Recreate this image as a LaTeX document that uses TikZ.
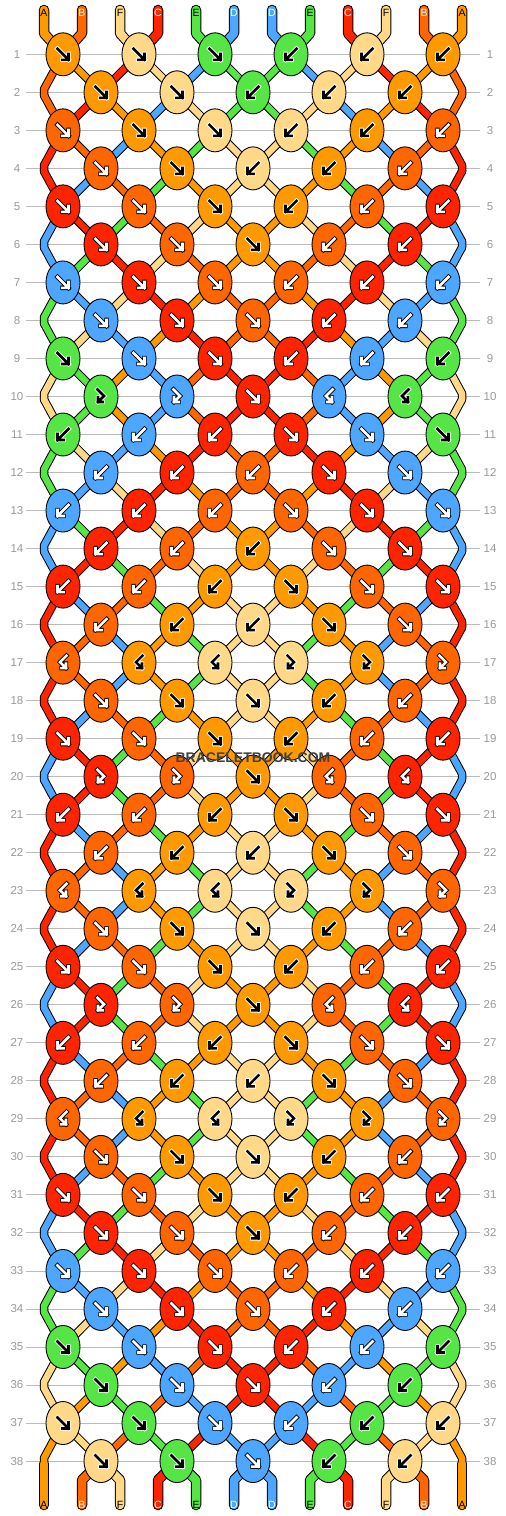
\documentclass[tikz,border=0pt]{standalone}
\usepackage{fontspec}
\setmainfont{Liberation Sans}
\usetikzlibrary{shapes.geometric}

\definecolor{thrA}{HTML}{FF9900}
\definecolor{thrB}{HTML}{FF6600}
\definecolor{thrC}{HTML}{FF2400}
\definecolor{thrD}{HTML}{4DA6FF}
\definecolor{thrE}{HTML}{55E645}
\definecolor{thrF}{HTML}{FFD988}
\colorlet{arrA}{black}\colorlet{rimA}{white}
\colorlet{arrB}{white}\colorlet{rimB}{black}
\colorlet{arrC}{white}\colorlet{rimC}{black}
\colorlet{arrD}{white}\colorlet{rimD}{black}
\colorlet{arrE}{black}\colorlet{rimE}{white}
\colorlet{arrF}{black}\colorlet{rimF}{white}
\definecolor{gridgray}{HTML}{BBBBBB}
\definecolor{lblgray}{HTML}{999999}

\tikzset{
  knot/.style={ellipse, draw=black, line width=0.9, minimum width=34, minimum height=43, inner sep=0},
  rowlbl/.style={text=lblgray, font=\fontsize{11.5}{13}\selectfont, inner sep=0},
  thrlbl/.style={font=\fontsize{10.5}{11}\selectfont, inner sep=0},
  glyph/.style={line cap=rect, line join=miter},
  yarn/.style={line cap=round, line join=round},
}

% thread colour at row #1, position #2
\newcommand{\setst}[3]{\expandafter\xdef\csname st#1-#2\endcsname{#3}}
\newcommand{\st}[2]{\csname st#1-#2\endcsname}
\def\mirf{b}\def\mirb{f}\def\mirx{y}\def\miry{x}

% x of position #2 in row #1
\newcommand{\getposx}[2]{\pgfmathsetmacro\posX{mod(#1,2)==1 ? 63+76*int((#2-1)/2) : ((#2==1) ? 44 : ((#2==12) ? 462 : 101+76*int((#2-2)/2)))}}

% arrow inside a knot: type, arrow colour, rim colour
\newcommand{\knotglyph}[3]{%
  \foreach \lw/\lc in {4.4/#3,2.6/#2}{%
    \if f#1\draw[glyph, line width=\lw, color=\lc] (-5.5,-5.5) -- (5.5,5.5) (5.5,-0.5) -- (5.5,5.5) -- (-0.5,5.5);\fi
    \if b#1\draw[glyph, line width=\lw, color=\lc] (5.5,-5.5) -- (-5.5,5.5) (-5.5,-0.5) -- (-5.5,5.5) -- (0.5,5.5);\fi
    \if x#1\draw[glyph, line width=\lw, color=\lc] (-3.5,-7) -- (3,-0.5) -- (-3,5.5) (-3,1) -- (-3,5.5) -- (1.5,5.5);\fi
    \if y#1\draw[glyph, line width=\lw, color=\lc] (3.5,-7) -- (-3,-0.5) -- (3,5.5) (3,1) -- (3,5.5) -- (-1.5,5.5);\fi
  }%
}

% threads: b = black border pass, c = colour pass
\newcommand{\yarnpass}[3]{%
  \foreach \ps in {1,...,12}{
    \if#1b\def\thc{black}\else\edef\thc{thr\st{0}{\ps}}\fi
    \draw[yarn, line width=#3, color=\thc] (t\ps) -- (u\ps) -- (p1-\ps);
    \if#1b\def\thc{black}\else\edef\thc{thr\st{38}{\ps}}\fi
    \draw[yarn, line width=#3, color=\thc] (q38-\ps) -- (v\ps) -- (w\ps);
  }
  \foreach \rw in {1,...,37}{
    \pgfmathtruncatemacro\nr{\rw+1}
    \foreach \ps in {1,...,12}{
      \if#1b\def\thc{black}\else\edef\thc{thr\st{\rw}{\ps}}\fi
      \draw[yarn, line width=#2, color=\thc] (q\rw-\ps) -- (p\nr-\ps) -- (q\nr-\ps);
    }
  }
}

\begin{document}
\begin{tikzpicture}[x=1pt, y=-1pt]
% knot types per row (f, b, x = forward-backward, y = backward-forward)
\foreach \thc [count=\ps] in {A,B,F,C,E,D,D,E,C,F,B,A}{\setst{0}{\ps}{\thc}}
\foreach \ty [count=\rw] in {f,f,f,f,f,f,f,f,f,x,b,b,b,b,b,b,y,f,f,x,b,b,y,f,f,x,b,b,y,f,f,f,f,f,f,f,f,f}{
  \expandafter\xdef\csname rt\rw\endcsname{\ty}
  \pgfmathtruncatemacro\pr{\rw-1}
  \def\sw{1}\if x\ty\def\sw{0}\fi\if y\ty\def\sw{0}\fi
  \foreach \ps in {1,...,12}{
    \pgfmathtruncatemacro\pj{mod(\rw,2)==1 ? \ps+\sw*(1-2*mod(\ps+1,2)) : ((\ps==1 || \ps==12) ? \ps : \ps+\sw*(2*mod(\ps+1,2)-1))}
    \setst{\rw}{\ps}{\st{\pr}{\pj}}
  }
}
\foreach \ty [count=\kk] in {b,b,f,f,f,b,b,b,f,f,b,f,f,b,f,f,f,f,f}{
  \pgfmathtruncatemacro\rr{2*\kk}
  \expandafter\xdef\csname mt\rr\endcsname{\ty}
}

% positions
\foreach \ps in {1,...,12}{
  \pgfmathsetmacro\sx{6+38*\ps}
  \coordinate (t\ps) at (\sx,10);
  \coordinate (u\ps) at (\sx,33.3);
  \coordinate (v\ps) at (\sx,1480);
  \coordinate (w\ps) at (\sx,1505);
}
\foreach \rw in {1,...,38}{
  \pgfmathsetmacro\yy{54.3+38.02*(\rw-1)}
  \foreach \ps in {1,...,12}{
    \getposx{\rw}{\ps}
    \pgfmathtruncatemacro\edg{(mod(\rw,2)==0 && (\ps==1 || \ps==12)) ? 1 : 0}
    \ifnum\edg=1
      \coordinate (p\rw-\ps) at ({\posX},{\yy-3});
      \coordinate (q\rw-\ps) at ({\posX},{\yy+3});
    \else
      \coordinate (p\rw-\ps) at (\posX,\yy);
      \coordinate (q\rw-\ps) at (\posX,\yy);
    \fi
  }
}

\useasboundingbox (0,0) rectangle (506,1516);

% row lines
\foreach \rw in {1,...,38}{
  \pgfmathsetmacro\yy{54.3+38.02*(\rw-1)}
  \draw[gridgray, line width=0.9] (26,\yy) -- (480,\yy);
  \node[rowlbl] (ll\rw) at (17,\yy) {\rw};
  \node[rowlbl] (lr\rw) at (490,\yy) {\rw};
}

\yarnpass{b}{8.5}{10.5}
\yarnpass{c}{6.5}{8.5}

% thread letters
\foreach \ps in {1,...,12}{
  \edef\thc{\st{0}{\ps}}
  \node[thrlbl, text=arr\thc] (top\ps) at (t\ps) [yshift=-3pt] {\thc};
  \node[thrlbl, text=arr\thc] (bot\ps) at (w\ps) {\thc};
}

% knots
\foreach \rw in {1,...,38}{
  \pgfmathtruncatemacro\pr{\rw-1}
  \edef\ty{\csname rt\rw\endcsname}
  \ifodd\rw\def\nk{6}\else\def\nk{5}\fi
  \foreach \kn in {1,...,\nk}{
    \pgfmathtruncatemacro\li{mod(\rw,2)==1 ? 2*\kn-1 : 2*\kn}
    \pgfmathtruncatemacro\ri{\li+1}
    \ifnum\li<6 \edef\kt{\ty}\else\ifnum\li=6 \edef\kt{\csname mt\rw\endcsname}\else\edef\kt{\csname mir\ty\endcsname}\fi\fi
    \edef\kc{\st{\pr}{\li}}
    \if b\kt\edef\kc{\st{\pr}{\ri}}\fi
    \if y\kt\edef\kc{\st{\pr}{\ri}}\fi
    \node[knot, fill=thr\kc] (k\rw-\kn) at (p\rw-\li) {};
    \begin{scope}[shift={(k\rw-\kn.center)}]
      \knotglyph{\kt}{arr\kc}{rim\kc}
    \end{scope}
  }
}

\node[font=\fontsize{14}{15}\selectfont\bfseries, text=black!75] (wm) at (253,758) {BRACELETBOOK.COM};
\end{tikzpicture}
\end{document}
